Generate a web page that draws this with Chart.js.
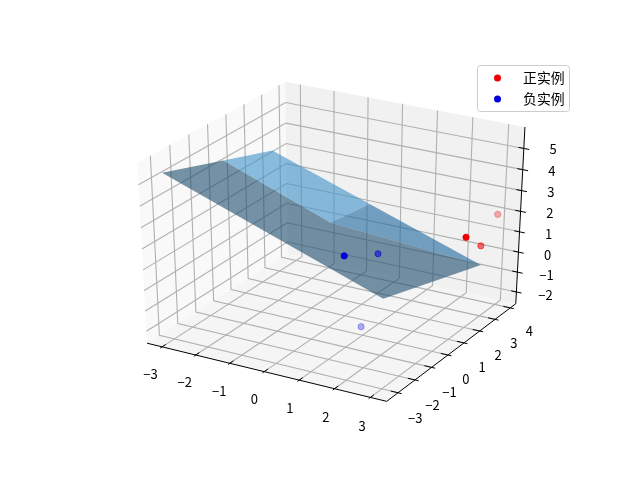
<!DOCTYPE html>
<html>
<head>
<meta charset="utf-8">
<script src="https://cdn.jsdelivr.net/npm/chart.js@4"></script>
<style>
  html, body { margin: 0; padding: 0; background: #fff; }
  #box { width: 640px; height: 480px; }
</style>
</head>
<body>
<div id="box"><canvas id="myChart" width="640" height="480"></canvas></div>
<script>
// axis ticks and limits
const xTicks = [-3, -2, -1, 0, 1, 2, 3];
const yTicks = [-3, -2, -1, 0, 1, 2, 3, 4];
const zTicks = [-2, -1, 0, 1, 2, 3, 4, 5];
const xLim = [-3.45, 3.45];
const yLim = [-3.66, 4.37];
const zLim = [-2.6, 6];

// scatter points
const posX = [3.26, 3.14, 2.95];
const posY = [1.32, 2.57, 4.04];
const posZ = [2.3, 1.17, 1.85];
const negX = [1.12, 1.15, 1.05];
const negY = [-1.34, 0.57, -0.19];
const negZ = [2.08, 1.15, -2.04];

// surface vertices, and the three facets it is shaded in
const surfX = [-3, -3, -3, 3, 3, 0.01, -0.18];
const surfY = [-3.23, -0.03, 2.7, 2.95, -2.99, 0.13, 2.82];
const surfZ = [5.48, 4.47, 3.61, -0.03, 1.7, 2.46, 1.9];
const darkFacet = [0, 1, 5, 3, 4];
const lightFacet = [1, 2, 6, 5];
const midFacet = [5, 6, 3];

const legendLabels = ['正实例', '负实例'];

const RED = '238, 0, 0';
const BLUE = '0, 0, 221';
const FONT = '"Noto Sans CJK SC", "Liberation Sans", sans-serif';

// same view as a default mplot3d axes: elev 30, azim -60, unit cube, dist 10
const U = [0.866025, 0.5, 0];
const V = [-0.25, 0.433013, 0.866025];
const W = [0.433013, -0.75, 0.5];
const dot = (a, b) => a[0] * b[0] + a[1] * b[1] + a[2] * b[2];

function cube(x, y, z) {
  return [
    (x - xLim[0]) / (xLim[1] - xLim[0]) - 0.5,
    (y - yLim[0]) / (yLim[1] - yLim[0]) - 0.5,
    (z - zLim[0]) / (zLim[1] - zLim[0]) - 0.5
  ];
}

function project(x, y, z) {
  const d = cube(x, y, z);
  const k = 10 - dot(d, W);
  return { x: 334.5 + 2810 * dot(d, U) / k, y: 236 - 2105 * dot(d, V) / k };
}

const datasets = [];

function addLine(pts, color, width) {
  datasets.push({
    type: 'line', data: pts.map(p => project(p[0], p[1], p[2])),
    borderColor: color, borderWidth: width, pointRadius: 0, tension: 0, fill: false
  });
}

function addPoly(pts, color) {
  datasets.push({
    type: 'line', data: pts.map(p => project(p[0], p[1], p[2])),
    borderWidth: 0, borderColor: 'rgba(0,0,0,0)', backgroundColor: color,
    pointRadius: 0, tension: 0, fill: 'shape'
  });
}

// depth shading like mplot3d: the nearest point is solid, the farthest 0.3
function addPoints(xs, ys, zs, rgb) {
  const depth = xs.map((x, i) => dot(cube(x, ys[i], zs[i]), W));
  const lo = Math.min(...depth);
  const hi = Math.max(...depth);
  const fades = depth.map(d => 'rgba(' + rgb + ',' + (1 - 0.7 * (hi - d) / (hi - lo)) + ')');
  datasets.push({
    type: 'scatter',
    data: xs.map((x, i) => project(x, ys[i], zs[i])),
    pointRadius: 3.1,
    pointBorderWidth: 1,
    pointBackgroundColor: fades,
    pointBorderColor: fades
  });
}

const [x0, x1] = xLim;
const [y0, y1] = yLim;
const [z0, z1] = zLim;

// panes
addPoly([[x0, y0, z0], [x0, y1, z0], [x0, y1, z1], [x0, y0, z1]], '#f9f9f9');
addPoly([[x0, y1, z0], [x1, y1, z0], [x1, y1, z1], [x0, y1, z1]], '#f1f1f1');
addPoly([[x0, y0, z0], [x1, y0, z0], [x1, y1, z0], [x0, y1, z0]], '#f5f5f5');

// grid
const GRID = '#b0b0b0';
xTicks.forEach(t => addLine([[t, y0, z0], [t, y1, z0], [t, y1, z1]], GRID, 1.1));
yTicks.forEach(t => addLine([[x1, t, z0], [x0, t, z0], [x0, t, z1]], GRID, 1.1));
zTicks.forEach(t => addLine([[x0, y0, t], [x0, y1, t], [x1, y1, t]], GRID, 1.1));

// surface
const facet = idx => idx.map(i => [surfX[i], surfY[i], surfZ[i]]);
addPoly(facet(darkFacet), 'rgba(28, 75, 108, 0.6)');
addPoly(facet(lightFacet), 'rgba(62, 145, 200, 0.6)');
addPoly(facet(midFacet), 'rgba(28, 103, 157, 0.6)');

// axis lines and ticks
addLine([[x0, y0, z0], [x1, y0, z0]], '#000', 1);
addLine([[x1, y0, z0], [x1, y1, z0]], '#000', 1);
addLine([[x1, y1, z0], [x1, y1, z1]], '#000', 1);
xTicks.forEach(t => addLine([[t, y0 - 0.1, z0], [t, y0 + 0.2, z0]], '#000', 1));
yTicks.forEach(t => addLine([[x1 - 0.2, t, z0], [x1 + 0.1, t, z0]], '#000', 1));
zTicks.forEach(t => addLine([[x1 - 0.15, y1, t], [x1 + 0.15, y1, t]], '#000', 1));

addPoints(posX, posY, posZ, RED);
addPoints(negX, negY, negZ, BLUE);

// tick labels and legend box
const textPlugin = {
  id: 'textPlugin',
  afterDraw(chart) {
    const ctx = chart.ctx;
    ctx.save();
    ctx.fillStyle = '#000';
    ctx.font = '13px ' + FONT;
    ctx.textAlign = 'center';
    ctx.textBaseline = 'middle';
    const label = (t, p, dx, dy) => {
      ctx.fillText(String(t).replace('-', '\u2212'), p.x + dx, p.y + dy);
    };
    xTicks.forEach(t => label(t, project(t, y0, z0), -9, 25));
    yTicks.forEach(t => label(t, project(x1, t, z0), 16, 22));
    zTicks.forEach(t => label(t, project(x1, y1, t), 26, 2.5));

    // legend
    ctx.font = '13.9px ' + FONT;
    ctx.beginPath();
    ctx.roundRect(477.5, 65.5, 92, 46, 3);
    ctx.fillStyle = 'rgba(255,255,255,0.8)';
    ctx.fill();
    ctx.strokeStyle = '#cccccc';
    ctx.lineWidth = 1;
    ctx.stroke();
    [RED, BLUE].forEach((rgb, i) => {
      const y = 78 + i * 21;
      ctx.beginPath();
      ctx.arc(497.5, y, 3.5, 0, Math.PI * 2);
      ctx.fillStyle = 'rgb(' + rgb + ')';
      ctx.fill();
      ctx.fillStyle = '#000';
      ctx.textAlign = 'left';
      ctx.fillText(legendLabels[i], 523, y);
    });
    ctx.restore();
  }
};

// chart.js paints the first dataset last, so flip to keep the order above
const myChart = new Chart(document.getElementById('myChart'), {
  data: { datasets: datasets.reverse() },
  plugins: [textPlugin],
  options: {
    responsive: false,
    animation: false,
    devicePixelRatio: 1,
    events: [],
    layout: { padding: 0 },
    plugins: { legend: { display: false }, tooltip: { enabled: false } },
    scales: {
      x: { type: 'linear', min: 0, max: 640, display: false },
      y: { type: 'linear', min: 0, max: 480, reverse: true, display: false }
    }
  }
});
</script>
</body>
</html>
